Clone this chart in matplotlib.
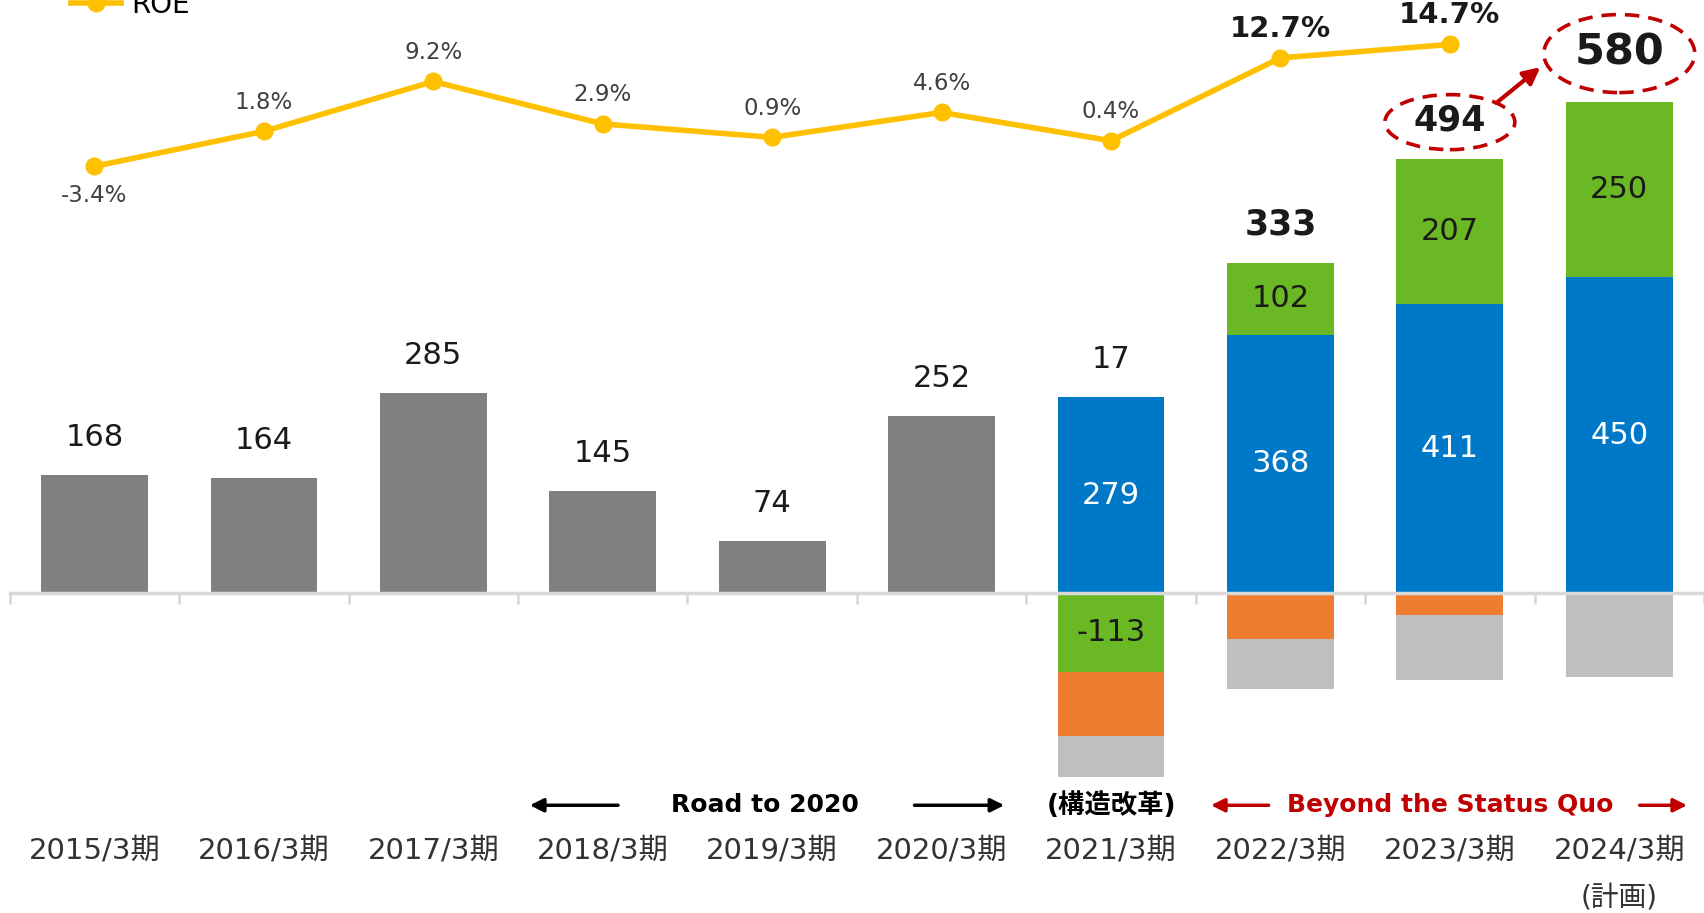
import matplotlib
matplotlib.use("Agg")
import matplotlib.pyplot as plt
import matplotlib.transforms as mtransforms
from matplotlib.patches import Ellipse
import numpy as np

plt.rcParams['font.family'] = ['DejaVu Sans', 'Noto Sans CJK JP']

# ---- data ----
anos = ["2015/3期", "2016/3期", "2017/3期", "2018/3期", "2019/3期",
        "2020/3期", "2021/3期", "2022/3期", "2023/3期", "2024/3期"]
lucro_antigo = [168, 164, 285, 145, 74, 252, 0, 0, 0, 0]      # gray bars
base = [0, 0, 0, 0, 0, 0, 279, 368, 411, 450]                  # blue
crescimento = [0, 0, 0, 0, 0, 0, -113, 102, 207, 250]          # green
custo_a = [0, 0, 0, 0, 0, 0, -90, -66, -32, 0]                 # orange
custo_b = [0, 0, 0, 0, 0, 0, -59, -71, -92, -120]              # light gray
totais = [168, 164, 285, 145, 74, 252, 17, 333, 494, 580]
roe = [-3.4, 1.8, 9.2, 2.9, 0.9, 4.6, 0.4, 12.7, 14.7]
roe_labels = ["-3.4%", "1.8%", "9.2%", "2.9%", "0.9%", "4.6%", "0.4%", "12.7%", "14.7%"]

series = [
    (lucro_antigo, "#808080", None),
    (base, "#0078C8", "white"),
    (crescimento, "#6AB823", "#1a1a1a"),
    (custo_a, "#ED7D31", None),
    (custo_b, "#BFBFBF", None),
]

fig = plt.figure(figsize=(17.04, 9.13), dpi=100)
ax = fig.add_axes([0, 0, 1, 1])
ax.set_xlim(-0.5575, 9.495)
ax.set_ylim(-455.8, 844.7)

x = np.arange(len(anos))
largura = 0.63
pos_bottom = np.zeros(len(anos))
neg_bottom = np.zeros(len(anos))
for vals, cor, cor_txt in series:
    v = np.array(vals, dtype=float)
    bottom = np.where(v >= 0, pos_bottom, neg_bottom)
    ax.bar(x, v, largura, bottom=bottom, color=cor, zorder=2)
    if cor_txt:
        for i in range(len(v)):
            if v[i] != 0:
                ax.text(x[i], bottom[i] + v[i] / 2, f"{int(v[i])}", ha="center",
                        va="center", fontsize=22, color=cor_txt, zorder=4)
    pos_bottom = pos_bottom + np.where(v >= 0, v, 0)
    neg_bottom = neg_bottom + np.where(v < 0, v, 0)

# total labels
for i, t in enumerate(totais):
    if i < 7:
        kw = dict(fontsize=22, fontweight="normal", off=27)
    elif i < 9:
        kw = dict(fontsize=25, fontweight="bold", off=28)
    else:
        kw = dict(fontsize=31, fontweight="bold", off=35)
    ax.annotate(f"{t}", (x[i], pos_bottom[i]), xytext=(0, kw["off"]),
                textcoords="offset points", ha="center", va="center",
                fontsize=kw["fontsize"], fontweight=kw["fontweight"],
                color="#1a1a1a", zorder=5)

# dashed ellipses around 494 and 580
for i, off_px, w_px, h_px in [(8, 37, 130, 55), (9, 48, 151, 78)]:
    cy = pos_bottom[i] + off_px / 0.702
    ax.add_patch(Ellipse((x[i], cy), w_px / 169.5, h_px / 0.702, fill=False,
                         edgecolor="#C00000", lw=2.6, ls=(0, (4, 2.5)), zorder=5))
ax.annotate("", xy=(8.534, 749), xytext=(8.274, 698),
            arrowprops=dict(arrowstyle="-|>", color="#C00000", lw=3,
                            mutation_scale=25, shrinkA=0, shrinkB=0), zorder=5)

# axis line at zero with boundary ticks
for s in ["top", "left", "right"]:
    ax.spines[s].set_visible(False)
ax.spines["bottom"].set_position(("data", 0))
ax.spines["bottom"].set_bounds(-0.5, 9.5)
ax.spines["bottom"].set_color("#D9D9D9")
ax.spines["bottom"].set_linewidth(2.5)
ax.spines["bottom"].set_zorder(3)
ax.set_xticks(np.arange(-0.5, 10, 1))
ax.tick_params(axis="x", direction="out", length=8, width=2, color="#D9D9D9",
               labelbottom=False)
ax.set_yticks([])

blend = mtransforms.blended_transform_factory(ax.transData, ax.transAxes)
for i, lab in enumerate(anos):
    ax.text(x[i], 0.069, lab, transform=blend, ha="center", va="center",
            fontsize=21, color="#333333")
ax.text(9, 0.0175, "(計画)", transform=blend, ha="center", va="center",
        fontsize=20, color="#333333")

# period captions
ax.text(3.96, 0.118, "Road to 2020", transform=blend, ha="center", va="center",
        fontsize=18, fontweight="bold", color="black")
ax.text(6.0, 0.118, "(構造改革)", transform=blend, ha="center", va="center",
        fontsize=19, fontweight="bold", color="black")
ax.text(8.0, 0.118, "Beyond the Status Quo", transform=blend, ha="center",
        va="center", fontsize=18, fontweight="bold", color="#C00000")
for x0, x1, cor in [(3.09, 2.57, "black"), (4.84, 5.37, "black"),
                    (6.93, 6.59, "#C00000"), (9.12, 9.40, "#C00000")]:
    ax.annotate("", xy=(x1, 0.118), xytext=(x0, 0.118), xycoords=blend,
                textcoords=blend,
                arrowprops=dict(arrowstyle="-|>", color=cor, lw=2.5,
                                mutation_scale=20, shrinkA=0, shrinkB=0))

# ROE line on twin axis
ax2 = ax.twinx()
ax2.set_ylim(-114.3, 21.3)
ax2.set_axis_off()
linha, = ax2.plot(x[:len(roe)], roe, color="#FFC000", lw=4, marker="o",
                  markersize=12, label="ROE", zorder=6)
for i, (v, lab) in enumerate(zip(roe, roe_labels)):
    bold = i >= 7
    dy = -21 if v < 0 else 21
    ax2.annotate(lab, (x[i], v), xytext=(0, dy), textcoords="offset points",
                 ha="center", va="center",
                 fontsize=21 if bold else 16.5,
                 fontweight="bold" if bold else "normal",
                 color="#1a1a1a" if bold else "#404040")

ax2.legend(handles=[linha], loc="center left", bbox_to_anchor=(0.035, 1 - 5 / 913),
           bbox_transform=fig.transFigure, frameon=False, fontsize=20,
           handlelength=1.8, borderaxespad=0, borderpad=0.4, handletextpad=0.36)

fig.savefig("out.png", dpi=100)
